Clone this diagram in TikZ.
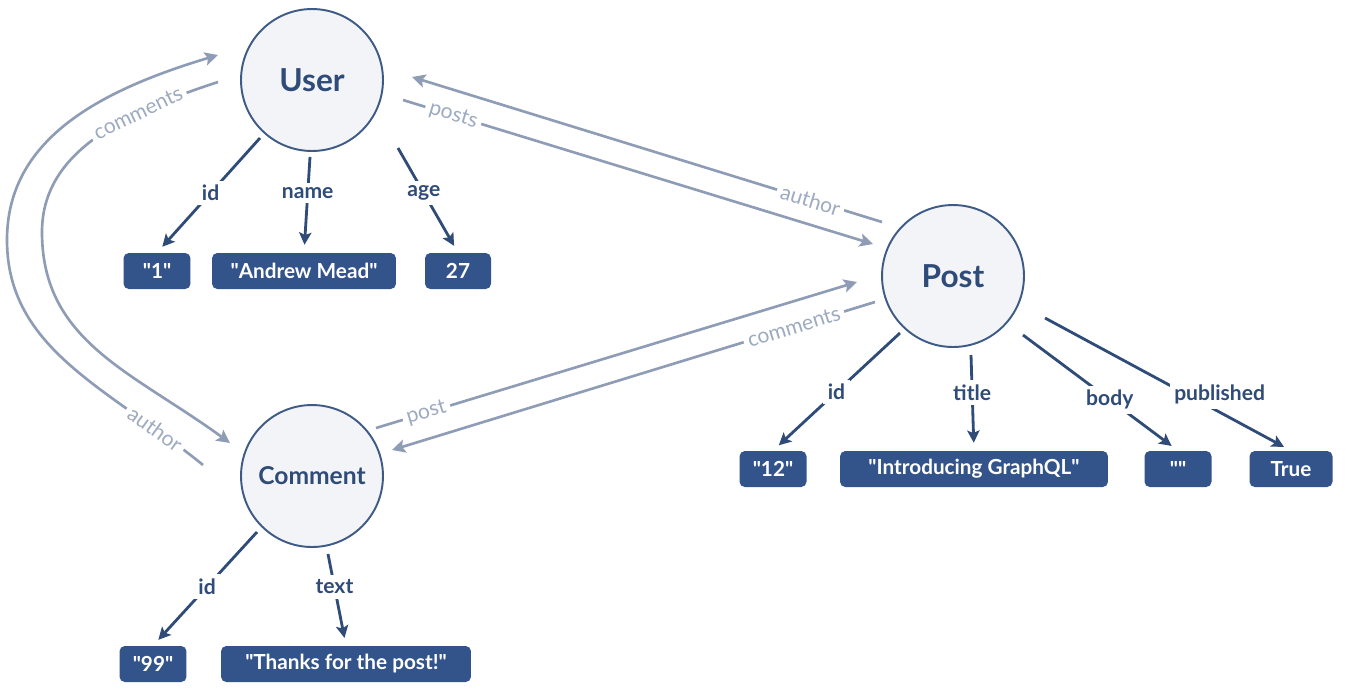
\documentclass[tikz,border=0pt]{standalone}
\usepackage{fontspec}
\setmainfont{Lato}
\usetikzlibrary{arrows.meta,calc}
\definecolor{circfill}{HTML}{F2F4F7}
\definecolor{circdraw}{HTML}{3E5B86}
\definecolor{boxblue}{HTML}{33548A}
\definecolor{attrblue}{HTML}{2F4B78}
\definecolor{relline}{HTML}{8E9DB5}
\definecolor{reltext}{HTML}{9DAAC0}
\newcommand{\strq}{\textquotedbl}
\begin{document}
\begin{tikzpicture}[x=0.02cm,y=-0.02cm,
  entity/.style={circle, draw=circdraw, line width=1.1pt, fill=circfill, minimum size=2.84cm, inner sep=0pt, text=attrblue, font=\bfseries\fontsize{18}{20}\selectfont},
  valbox/.style={rectangle, rounded corners=3pt, fill=boxblue, text=white, minimum height=0.72cm, inner xsep=4pt, font=\bfseries\fontsize{11.8}{13}\selectfont},
  attr/.style={draw=attrblue, line width=1.6pt, -{Stealth[length=7pt,width=7pt,inset=1.5pt]}, shorten >=4.5pt},
  attrlbl/.style={fill=white, text=attrblue, inner sep=2.5pt, font=\bfseries\fontsize{12}{14}\selectfont},
  rel/.style={draw=relline, line width=1.5pt, -{Stealth[length=7.5pt,width=7.5pt,inset=1.5pt]}},
  rellbl/.style={fill=white, text=reltext, inner sep=2.5pt, sloped, font=\fontsize{12}{14}\selectfont},
]
\path[use as bounding box, fill=white] (0,0) rectangle (1352,698);

% entities
\node[entity] (User) at (312,80) {User};
\node[entity] (Post) at (953,276) {Post};
\node[entity, font=\bfseries\fontsize{14}{16}\selectfont] (Comment) at (312,476) {Comment};

% values
\node[valbox, minimum width=1.34cm] (u1) at (157,271) {\strq 1\strq};
\node[valbox, minimum width=3.68cm] (uname) at (304,271) {\strq Andrew Mead\strq};
\node[valbox, minimum width=1.32cm] (uage) at (458,271) {27};
\node[valbox, minimum width=1.34cm] (p12) at (773,469) {\strq 12\strq};
\node[valbox, minimum width=5.36cm] (ptitle) at (974,469) {\strq Introducing GraphQL\strq};
\node[valbox, minimum width=1.34cm] (pbody) at (1178,469) {\strq\strq};
\node[valbox, minimum width=1.66cm] (ptrue) at (1291,469) {True};
\node[valbox, minimum width=1.34cm] (c99) at (153,664) {\strq 99\strq};
\node[valbox, minimum width=5.0cm] (ctext) at (346,664) {\strq Thanks for the post!\strq};

% attribute connectors
\draw[attr] ($(User.center)+(-52,58)$) -- node[attrlbl,pos=0.48]{id} (u1.north);
\draw[attr] ($(User.center)+(-2,77)$) -- node[attrlbl,pos=0.38]{name} (uname.north);
\draw[attr] ($(User.center)+(86,68)$) -- node[attrlbl,pos=0.43]{age} (uage.north);
\draw[attr] ($(Post.center)+(-53,57)$) -- node[attrlbl,pos=0.5]{id} (p12.north);
\draw[attr] ($(Post.center)+(18,79)$) -- node[attrlbl,pos=0.39]{title} (ptitle.north);
\draw[attr] ($(Post.center)+(70,59)$) -- node[attrlbl,pos=0.56]{body} (pbody.north);
\draw[attr] ($(Post.center)+(92,42)$) -- node[attrlbl,pos=0.71,yshift=10pt]{published} (ptrue.north);
\draw[attr] ($(Comment.center)+(-55,56)$) -- node[attrlbl,pos=0.48]{id} (c99.north);
\draw[attr] ($(Comment.center)+(16,78)$) -- node[attrlbl,pos=0.36]{text} (ctext.north);

% relationship connectors
\draw[rel] ($(User.center)+(91,20)$) -- node[rellbl,pos=0.107]{posts} ($(Post.center)+(-80,-32)$);
\draw[rel] ($(Post.center)+(-71,-54)$) -- node[rellbl,pos=0.152]{author} ($(User.center)+(100,-3)$);
\draw[rel] ($(Comment.center)+(64,-48)$) -- node[rellbl,pos=0.105]{post} ($(Post.center)+(-96,6)$);
\draw[rel] ($(Post.center)+(-78,26)$) -- node[rellbl,pos=0.168]{comments} ($(Comment.center)+(80,-26)$);
\draw[rel] ($(Comment.center)+(-109,-11)$) .. controls (110,389) and (7,350) .. node[rellbl,pos=0.17]{author} (7,240)
  .. controls (7,140) and (98,91) .. ($(User.center)+(-94,-25)$);
\draw[rel] ($(User.center)+(-94,2)$) .. controls (123,113) and (42,152) .. node[rellbl,pos=0.3]{comments} (42,232)
  .. controls (42,342) and (133,372) .. ($(Comment.center)+(-82,-33)$);
\end{tikzpicture}
\end{document}
